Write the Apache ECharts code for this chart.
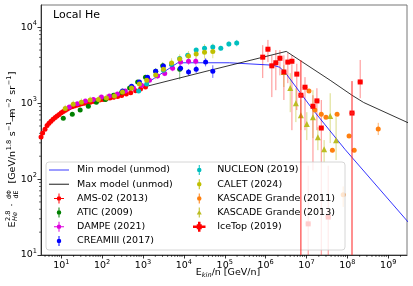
<!DOCTYPE html>
<html><head><meta charset="utf-8">
<script src="https://cdn.jsdelivr.net/npm/echarts@6/dist/echarts.min.js"></script>
<style>html,body{margin:0;padding:0;background:#fff}#c{width:413px;height:286px}</style>
</head><body><div id="c"></div>
<script>
// ---------------- data ----------------
const minModelE = [1000, 7100, 1.3e5, 1.5e6, 2.2e6, 2.95e6, 1.45e7, 8.7e7, 3.1e9];
const minModelF = [1700, 3400, 3400, 3160, 2970, 2570, 813, 247, 27];
const maxModelE = [1000, 4.3e4, 3.2e6, 3.8e7, 1.3e8, 2.5e8, 3.1e9];
const maxModelF = [1620, 2700, 4800, 2000, 1270, 1020, 550];

const amsE = [3.2, 3.5, 4.0, 4.5, 5.0, 5.6, 6.3, 7.1, 7.9, 8.9, 10, 11.2, 12.6, 14.1, 15.8, 18.2, 20.9, 24, 27.5, 31.6, 37, 43.6, 51, 60, 72, 87, 105, 126, 155, 190, 240, 300, 390, 500, 660, 870, 1150];
const amsF = [359, 403, 452, 507, 543, 577, 614, 649, 679, 711, 745, 776, 807, 839, 871, 899, 919, 940, 961, 979, 996, 1014, 1030, 1050, 1074, 1096, 1119, 1143, 1167, 1194, 1227, 1265, 1318, 1375, 1450, 1535, 1625];

const aticE  = [11.2, 18.6, 29, 46, 72, 120, 190, 300, 470, 740, 1150, 2040, 3030, 7900];
const aticF  = [630, 716, 810, 910, 1030, 1120, 1270, 1390, 1580, 1900, 2200, 2630, 3100, 2800];
const aticLo = [610, 695, 785, 880, 995, 1080, 1220, 1330, 1500, 1790, 2050, 2400, 2750, 2050];
const aticHi = [650, 738, 835, 940, 1065, 1160, 1320, 1450, 1660, 2010, 2350, 2870, 3450, 3500];

const dampeE  = [15.7, 24.7, 39, 61, 96, 150, 236, 370, 585, 920, 1440, 2270, 3400, 5300, 8300, 13000, 19500];
const dampeF  = [890, 980, 1070, 1120, 1200, 1240, 1320, 1440, 1580, 1720, 2000, 2270, 2460, 2880, 3470, 3560, 3560];
const dampeLo = [860, 945, 1030, 1075, 1150, 1185, 1255, 1365, 1490, 1610, 1860, 2100, 2260, 2620, 3130, 3180, 3140];
const dampeHi = [920, 1015, 1110, 1165, 1250, 1295, 1385, 1515, 1670, 1830, 2140, 2440, 2660, 3140, 3810, 3940, 3980];

const creamE  = [315, 525, 815, 1290, 2040, 3160, 5000, 8300, 13000, 20000, 34000, 51000];
const creamF  = [1440, 1670, 1900, 2200, 2630, 3080, 3240, 2880, 2570, 2800, 3470, 2630];
const creamLo = [1390, 1600, 1810, 2080, 2470, 2880, 3000, 2630, 2320, 2500, 3050, 2150];
const creamHi = [1490, 1740, 1990, 2320, 2790, 3280, 3480, 3130, 2820, 3100, 3900, 3150];

const nucleonE  = [780, 1230, 3160, 5000, 7900, 12400, 20000, 32000, 51000, 80000, 126000, 196000];
const nucleonF  = [1440, 1780, 2700, 3240, 3880, 4270, 5000, 5300, 5470, 5300, 6000, 6200];
const nucleonLo = [1390, 1710, 2580, 3090, 3690, 4050, 4720, 4980, 5120, 4930, 5550, 5600];
const nucleonHi = [1490, 1850, 2820, 3390, 4070, 4490, 5280, 5620, 5820, 5670, 6450, 6800];

const caletE  = [12.5, 19.6, 31, 51, 81, 127, 200, 315, 525, 815, 1230, 2040, 3160, 5000, 7900, 13000, 20000, 32000, 51000];
const caletF  = [850, 970, 1030, 1100, 1120, 1170, 1240, 1400, 1580, 1780, 2000, 2340, 2800, 3380, 3800, 4170, 4420, 4680, 4800];
const caletLo = [760, 870, 920, 990, 1000, 1040, 1100, 1240, 1400, 1570, 1760, 2050, 2440, 2930, 3280, 3580, 3760, 3850, 3900];
const caletHi = [950, 1080, 1150, 1220, 1250, 1310, 1390, 1570, 1780, 2010, 2270, 2670, 3210, 3900, 4400, 4860, 5200, 6000, 6100];

const kg11E  = [1.15e7, 1.6e7, 2.3e7, 3.0e7, 4.3e7, 5.6e7, 7.9e7, 1.1e8, 1.47e8, 5.7e8];
const kg11F  = [1440, 810, 716, 653, 240, 716, 62, 370, 240, 455];
const kg11Lo = [1380, 770, 680, 620, 225, 680, 43, 350, 225, 380];
const kg11Hi = [1500, 850, 752, 686, 255, 752, 80, 390, 255, 550];

const kg13E  = [2.8e6, 4.0e6, 5.5e6, 7.3e6, 1.02e7, 1.44e7, 1.9e7, 2.7e7, 3.8e7, 5.3e7];
const kg13F  = [2570, 1580, 1000, 690, 530, 653, 355, 247, 675, 325];
const kg13Lo = [1630, 760, 562, 442, 326, 346, 240, 167, 298, 178];
const kg13Hi = [3160, 2480, 1570, 1096, 760, 1480, 481, 326, 1350, 653];

const iceE   = [8.5e5, 1.14e6, 1.42e6, 1.78e6, 2.24e6, 2.8e6, 3.5e6, 4.4e6, 5.8e6, 7.3e6, 9.2e6, 1.1e7, 1.44e7, 1.8e7, 2.3e7, 3.4e7, 1.3e8, 2.06e8];
const iceF   = [4030, 5130, 3100, 3400, 3900, 2570, 3470, 3560, 2410, 1270, 1620, 25.7, 910, 1070, 470, 31.6, 740, 1900];
const iceLo  = [2140, 3470, 1200, 1480, 2320, 1100, 1830, 440, 810, 1, 440, 1, 130, 440, 1, 1, 1, 1160];
const iceHi  = [5800, 6800, 4260, 5000, 5000, 4260, 4550, 4260, 3300, 3680, 2200, 150, 1270, 1570, 1100, 150, 1950, 3700];
const iceElo = [7.3e5, 9.8e5, 1.22e6, 1.53e6, 1.93e6, 2.4e6, 3.0e6, 3.8e6, 5.0e6, 6.3e6, 7.9e6, 9.5e6, 1.24e7, 1.55e7, 1.98e7, 2.9e7, 1.12e8, 1.77e8];
const iceEhi = [9.9e5, 1.33e6, 1.65e6, 2.07e6, 2.6e6, 3.25e6, 4.1e6, 5.1e6, 6.7e6, 8.5e6, 1.07e7, 1.28e7, 1.67e7, 2.1e7, 2.7e7, 3.95e7, 1.51e8, 2.4e8];

const xTickExps = [1, 2, 3, 4, 5, 6, 7, 8, 9];
const yTickExps = [1, 2, 3, 4];

// ---------------- helpers ----------------
const FONT = 'DejaVu Sans';
const X_MIN = 3.19, X_MAX = 2.88e9, Y_MIN = 10, Y_MAX = 1.96e4;
const ICE_OVER_LEGEND = [9, 16];   // IceTop bars drawn above the legend box (as in the reference)
const zip2 = (a, b) => a.map((v, i) => [v, b[i]]);
const zipN = (...arrs) => arrs[0].map((_, i) => arrs.map(a => a[i]));

function errSeries(rows, color, withX, extra) {
  return Object.assign({
    type: 'custom', silent: true, z: 2, clip: false,
    data: rows, encode: { x: 0, y: 1 },
    renderItem: function (params, api) {
      const cs = params.coordSys;
      const x = api.value(0), y = api.value(1);
      const p = api.coord([x, y]);
      const top = Math.max(cs.y, api.coord([x, api.value(3)])[1]);
      const bot = Math.min(cs.y + cs.height, api.coord([x, api.value(2)])[1]);
      const ch = [{ type: 'line', shape: { x1: p[0], y1: top, x2: p[0], y2: bot }, style: { stroke: color, lineWidth: 1 } }];
      if (withX) {
        const xl = api.coord([api.value(4), y])[0], xh = api.coord([api.value(5), y])[0];
        ch.push({ type: 'line', shape: { x1: xl, y1: p[1], x2: xh, y2: p[1] }, style: { stroke: color, lineWidth: 1.2 } });
      }
      return { type: 'group', children: ch };
    }
  }, extra || {});
}
function markSeries(name, E, F, color, symbol, size) {
  return { type: 'scatter', name: name, data: zip2(E, F), symbol: symbol || 'circle', symbolSize: size || 5,
    itemStyle: { color: color, opacity: 1 }, z: 3, silent: true };
}

const ICON_LINE = 'path://M0,0H20V0.9H0Z';
const ICON_XY = 'path://M9,0H11V20H9Z M0,9H20V11H0Z M14.5,10A4.5,4.5,0,1,1,5.5,10A4.5,4.5,0,1,1,14.5,10Z';
const ICON_Y  = 'path://M9,0H11V20H9Z M14.5,10A4.5,4.5,0,1,1,5.5,10A4.5,4.5,0,1,1,14.5,10Z';
const ICON_TRI = 'path://M9,0H11V20H9Z M10,5L15,14H5Z';
const ICON_ICE = 'path://M8,2H12V18H8Z M0,8H20V12H0Z M6,6H14V14H6Z';

// math-like label builder (measures with canvas)
const mctx = document.createElement('canvas').getContext('2d');
function fnt(fs, it) { return (it ? 'italic ' : '') + fs + 'px "' + FONT + '"'; }
function tw(t, fs, it) { mctx.font = fnt(fs, it); return mctx.measureText(t).width; }
function txt(t, x, y, fs, it, align) { return { type: 'text', x: x, y: y, style: { text: t, font: fnt(fs, it), align: align || 'left', verticalAlign: 'middle', fill: '#000' } }; }
function mathGroup(pieces, cx, cy, rot) {
  let cur = 0; const kids = [];
  pieces.forEach(p => {
    if (p.frac) {
      const w = Math.max(tw(p.frac[0], p.fs), tw(p.frac[1], p.fs)) + 1;
      kids.push(txt(p.frac[0], cur + w / 2, -3.6, p.fs, false, 'center'));
      kids.push(txt(p.frac[1], cur + w / 2, 3.8, p.fs, false, 'center'));
      kids.push({ type: 'rect', shape: { x: cur, y: -0.1, width: w, height: 0.6 }, style: { fill: '#000' } });
      cur += w + (p.after || 0);
    } else if (p.stack) {
      kids.push(txt(p.stack[0], cur, -3.8, p.fs, false));
      kids.push(txt(p.stack[1], cur, 3.0, p.fs, true));
      cur += Math.max(tw(p.stack[0], p.fs), tw(p.stack[1], p.fs, true)) + (p.after || 0);
    } else {
      kids.push(txt(p.t, cur, p.dy || 0, p.fs, p.it));
      cur += tw(p.t, p.fs, p.it) + (p.after || 0);
    }
  });
  kids.forEach(k => { k.x -= cur / 2; });
  return { type: 'group', x: cx, y: cy, rotation: rot || 0, children: kids, z: 10 };
}

// ---------------- chart ----------------
const chart = echarts.init(document.getElementById('c'), null, { renderer: 'canvas' });
const supLabel = v => '{b|10}{s|' + Math.round(Math.log10(v)) + '}';
const richTick = { b: { fontSize: 9.5, fontFamily: FONT, color: '#000' }, s: { fontSize: 6.6, fontFamily: FONT, color: '#000', padding: [0, 0, 7, 0] } };

const xMinor = [], yMinor = [];
[0].concat(xTickExps).forEach(e => { for (let k = 2; k <= 9; k++) { const v = k * Math.pow(10, e); if (v > X_MIN && v < X_MAX) xMinor.push([v, 100]); } });
yTickExps.forEach(e => { for (let k = 2; k <= 9; k++) { const v = k * Math.pow(10, e); if (v < Y_MAX) yMinor.push([100, v]); } });

const iceRows = zipN(iceE, iceF, iceLo, iceHi, iceElo, iceEhi);
const legendText = { fontSize: 9.5, fontFamily: FONT, color: '#000', lineHeight: 12, padding: [0, 0, 0, 3] };

const option = {
  animation: false,
  backgroundColor: '#fff',
  textStyle: { fontFamily: FONT },
  grid: { left: 41, right: 6, top: 5, bottom: 31, show: true, borderColor: '#777', borderWidth: 1 },
  xAxis: {
    type: 'log', logBase: 10, min: X_MIN, max: X_MAX,
    axisLine: { show: true, lineStyle: { color: '#333', width: 1 } },
    axisTick: { show: true, length: 3.5, lineStyle: { color: '#000', width: 0.8 } },
    axisLabel: { show: true, margin: 4, showMinLabel: false, showMaxLabel: false, formatter: supLabel, rich: richTick },
    splitLine: { show: false }
  },
  yAxis: {
    type: 'log', logBase: 10, min: Y_MIN, max: Y_MAX,
    axisLine: { show: true, lineStyle: { color: '#333', width: 1 } },
    axisTick: { show: true, length: 3.5, lineStyle: { color: '#000', width: 0.8 } },
    axisLabel: { show: true, margin: 4, showMaxLabel: false, formatter: supLabel, rich: richTick },
    splitLine: { show: false }
  },
  legend: [
    { data: [{ name: 'Min model (unmod)', icon: ICON_LINE }, { name: 'Max model (unmod)', icon: ICON_LINE },
             { name: 'AMS-02 (2013)', icon: ICON_XY }, { name: 'ATIC (2009)', icon: ICON_Y },
             { name: 'DAMPE (2021)', icon: ICON_XY }, { name: 'CREAMIII (2017)', icon: ICON_Y }],
      orient: 'vertical', left: 49, top: 164, padding: 0, itemWidth: 20, itemHeight: 10, itemGap: 2.2,
      zlevel: 1, z: 4, selectedMode: false, textStyle: legendText },
    { data: [{ name: 'NUCLEON (2019)', icon: ICON_Y }, { name: 'CALET (2024)', icon: ICON_Y },
             { name: 'KASCADE Grande (2011)', icon: ICON_Y }, { name: 'KASCADE Grande (2013)', icon: ICON_TRI },
             { name: 'IceTop (2019)', icon: ICON_ICE }],
      orient: 'vertical', left: 193, top: 164, padding: 0, itemWidth: 20, itemHeight: 10, itemGap: 2.2,
      zlevel: 1, z: 4, selectedMode: false, textStyle: legendText }
  ],
  graphic: [
    { type: 'rect', shape: { x: 46, y: 162, width: 299, height: 88, r: 3 }, style: { fill: 'rgba(255,255,255,0.8)', stroke: '#cccccc', lineWidth: 0.8 }, zlevel: 1, z: 1, silent: true },
    { type: 'text', x: 53, y: 10, style: { text: 'Local He', font: '11px "' + FONT + '"', fill: '#000' }, z: 10 },
    mathGroup([{ t: 'E', fs: 9.5 }, { t: 'kin', fs: 6.6, it: true, dy: 2.6 }, { t: '/n [GeV/n]', fs: 9.5 }], 228, 273, 0),
    mathGroup([{ t: 'E', fs: 9.5, after: 0.6 }, { stack: ['2.8', 'He'], fs: 6.6, after: 4 },
               { t: '·', fs: 9.5, after: 4 }, { frac: ['dΦ', 'dE'], fs: 6.3, after: 6 },
               { t: '[GeV/n', fs: 9.5, after: 0.5 }, { t: '1.8', fs: 6.6, dy: -3.6, after: 3.5 }, { t: 's', fs: 9.5, after: 0.5 }, { t: '−1', fs: 6.6, dy: -3.6, after: 3.5 },
               { t: 'm', fs: 9.5, after: 0.5 }, { t: '−2', fs: 6.6, dy: -3.6, after: 3.5 }, { t: 'sr', fs: 9.5, after: 0.5 }, { t: '−1', fs: 6.6, dy: -3.6, after: 0.5 }, { t: ']', fs: 9.5 }],
              12.5, 149.5, Math.PI / 2)
  ],
  series: [
    { type: 'line', name: 'Min model (unmod)', data: zip2(minModelE, minModelF), symbol: 'none', lineStyle: { color: '#0000ff', width: 0.8 }, itemStyle: { color: '#2222ff' }, z: 2, silent: true },
    { type: 'line', name: 'Max model (unmod)', data: zip2(maxModelE, maxModelF), symbol: 'none', lineStyle: { color: '#000000', width: 0.8 }, itemStyle: { color: '#000000' }, z: 2, silent: true },

    markSeries('AMS-02 (2013)', amsE, amsF, '#ff0000'),
    errSeries(zipN(aticE, aticF, aticLo, aticHi), 'rgba(0,128,0,0.45)', false),
    markSeries('ATIC (2009)', aticE, aticF, '#008000'),
    errSeries(zipN(dampeE, dampeF, dampeLo, dampeHi), 'rgba(221,0,221,0.45)', false),
    markSeries('DAMPE (2021)', dampeE, dampeF, '#dd00dd'),
    errSeries(zipN(creamE, creamF, creamLo, creamHi), 'rgba(0,0,255,0.6)', false),
    markSeries('CREAMIII (2017)', creamE, creamF, '#0000ff'),
    errSeries(zipN(nucleonE, nucleonF, nucleonLo, nucleonHi), 'rgba(0,191,191,0.5)', false),
    markSeries('NUCLEON (2019)', nucleonE, nucleonF, '#00bfbf'),
    errSeries(zipN(caletE, caletF, caletLo, caletHi), 'rgba(191,191,0,0.45)', false),
    markSeries('CALET (2024)', caletE, caletF, '#bfbf00'),
    errSeries(zipN(kg11E, kg11F, kg11Lo, kg11Hi), 'rgba(255,127,14,0.6)', false),
    markSeries('KASCADE Grande (2011)', kg11E, kg11F, '#ff7f0e'),
    errSeries(zipN(kg13E, kg13F, kg13Lo, kg13Hi), 'rgba(188,189,34,0.55)', false),
    markSeries('KASCADE Grande (2013)', kg13E, kg13F, '#bcbd22', 'triangle', 6),
    errSeries(iceRows.filter((r, i) => ICE_OVER_LEGEND.indexOf(i) < 0), 'rgba(255,0,0,0.45)', true),
    errSeries(iceRows.filter((r, i) => ICE_OVER_LEGEND.indexOf(i) >= 0), '#ff2020', true, { zlevel: 1, z: 6 }),
    markSeries('IceTop (2019)', iceE, iceF, '#ff0000', 'rect', 5),

    { type: 'custom', silent: true, clip: false, data: xMinor, encode: { x: 0, y: 1 }, z: 2,
      renderItem: (params, api) => { const cs = params.coordSys; const x = api.coord([api.value(0), 100])[0];
        return { type: 'line', shape: { x1: x, y1: cs.y + cs.height, x2: x, y2: cs.y + cs.height + 2 }, style: { stroke: '#000', lineWidth: 0.6 } }; } },
    { type: 'custom', silent: true, clip: false, data: yMinor, encode: { x: 0, y: 1 }, z: 2,
      renderItem: (params, api) => { const cs = params.coordSys; const y = api.coord([100, api.value(1)])[1];
        return { type: 'line', shape: { x1: cs.x - 2, y1: y, x2: cs.x, y2: y }, style: { stroke: '#000', lineWidth: 0.6 } }; } }
  ]
};
chart.setOption(option);
</script></body></html>
